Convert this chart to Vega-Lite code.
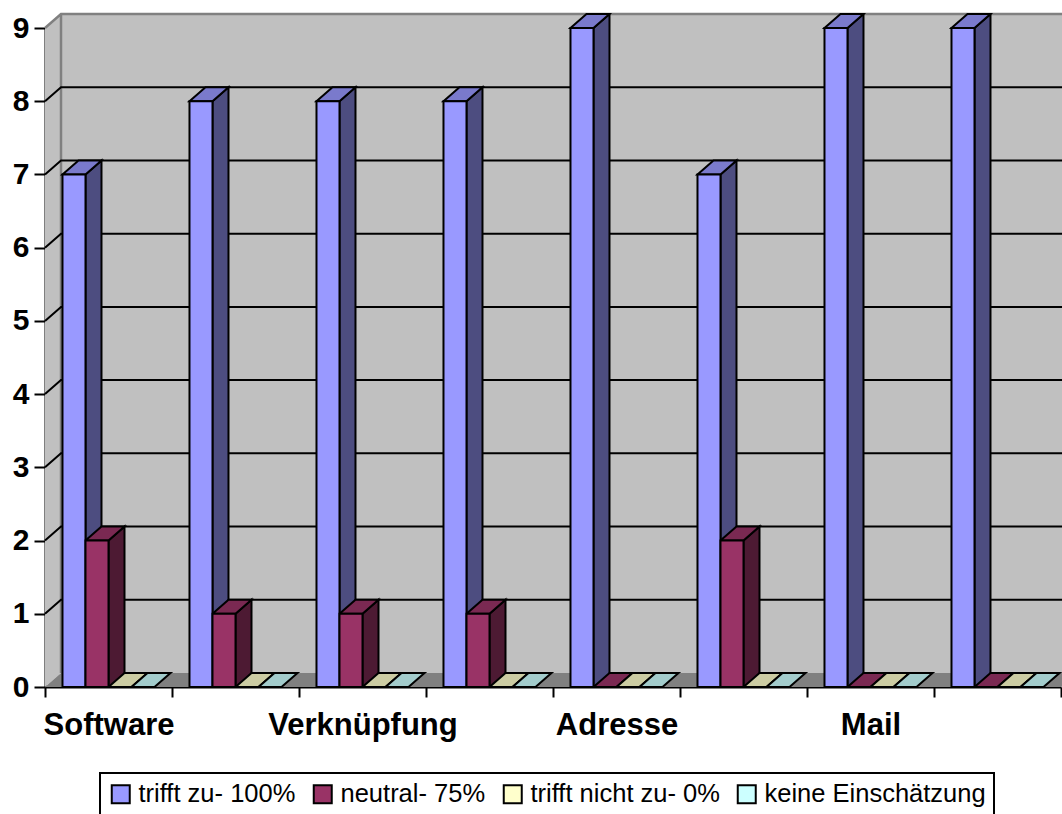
{
  "$schema": "https://vega.github.io/schema/vega-lite/v6.json",
  "width": 1016,
  "height": 673,
  "autosize": {"type": "none"},
  "padding": {"left": 45, "top": 14, "right": 1, "bottom": 127},
  "background": "white",
  "datasets": {
    "main": [
      {"cat": "Software", "series": "trifft zu- 100%", "value": 7},
      {"cat": "Software", "series": "neutral- 75%", "value": 2},
      {"cat": "Software", "series": "trifft nicht zu- 0%", "value": 0},
      {"cat": "Software", "series": "keine Einschätzung", "value": 0},
      {"cat": "Kategorie 2", "series": "trifft zu- 100%", "value": 8},
      {"cat": "Kategorie 2", "series": "neutral- 75%", "value": 1},
      {"cat": "Kategorie 2", "series": "trifft nicht zu- 0%", "value": 0},
      {"cat": "Kategorie 2", "series": "keine Einschätzung", "value": 0},
      {"cat": "Verknüpfung", "series": "trifft zu- 100%", "value": 8},
      {"cat": "Verknüpfung", "series": "neutral- 75%", "value": 1},
      {"cat": "Verknüpfung", "series": "trifft nicht zu- 0%", "value": 0},
      {"cat": "Verknüpfung", "series": "keine Einschätzung", "value": 0},
      {"cat": "Kategorie 4", "series": "trifft zu- 100%", "value": 8},
      {"cat": "Kategorie 4", "series": "neutral- 75%", "value": 1},
      {"cat": "Kategorie 4", "series": "trifft nicht zu- 0%", "value": 0},
      {"cat": "Kategorie 4", "series": "keine Einschätzung", "value": 0},
      {"cat": "Adresse", "series": "trifft zu- 100%", "value": 9},
      {"cat": "Adresse", "series": "neutral- 75%", "value": 0},
      {"cat": "Adresse", "series": "trifft nicht zu- 0%", "value": 0},
      {"cat": "Adresse", "series": "keine Einschätzung", "value": 0},
      {"cat": "Kategorie 6", "series": "trifft zu- 100%", "value": 7},
      {"cat": "Kategorie 6", "series": "neutral- 75%", "value": 2},
      {"cat": "Kategorie 6", "series": "trifft nicht zu- 0%", "value": 0},
      {"cat": "Kategorie 6", "series": "keine Einschätzung", "value": 0},
      {"cat": "Mail", "series": "trifft zu- 100%", "value": 9},
      {"cat": "Mail", "series": "neutral- 75%", "value": 0},
      {"cat": "Mail", "series": "trifft nicht zu- 0%", "value": 0},
      {"cat": "Mail", "series": "keine Einschätzung", "value": 0},
      {"cat": "Kategorie 8", "series": "trifft zu- 100%", "value": 9},
      {"cat": "Kategorie 8", "series": "neutral- 75%", "value": 0},
      {"cat": "Kategorie 8", "series": "trifft nicht zu- 0%", "value": 0},
      {"cat": "Kategorie 8", "series": "keine Einschätzung", "value": 0}
    ],
    "grid": [{"v": 1}, {"v": 2}, {"v": 3}, {"v": 4}, {"v": 5}, {"v": 6}, {"v": 7}, {"v": 8}],
    "base": [{"v": 0}]
  },
  "layer": [
    {
      "data": {"name": "base"},
      "mark": {"type": "point", "shape": "M0,0L0,-659L16,-673L1040,-673L1040,-14L16,-14Z", "size": 4, "filled": true, "opacity": 1, "fill": "#C0C0C0", "strokeWidth": 0},
      "encoding": {
        "x": {"datum": "Software", "bandPosition": 0, "type": "nominal", "title": null, "scale": {"type": "band", "domain": ["Software", "Kategorie 2", "Verknüpfung", "Kategorie 4", "Adresse", "Kategorie 6", "Mail", "Kategorie 8"], "paddingInner": 0, "paddingOuter": 0}},
        "y": {"field": "v", "type": "quantitative", "title": null, "scale": {"domain": [0, 9], "nice": false, "zero": true, "range": [673, 14]}}
      }
    },
    {
      "data": {"name": "base"},
      "mark": {"type": "point", "shape": "M0,-659L16,-673L1040,-673M16,-673L16,-14", "size": 4, "filled": false, "opacity": 1, "stroke": "#808080", "strokeWidth": 2.5},
      "encoding": {
        "x": {"datum": "Software", "bandPosition": 0, "type": "nominal", "title": null, "scale": {"type": "band", "domain": ["Software", "Kategorie 2", "Verknüpfung", "Kategorie 4", "Adresse", "Kategorie 6", "Mail", "Kategorie 8"], "paddingInner": 0, "paddingOuter": 0}},
        "y": {"field": "v", "type": "quantitative", "title": null, "scale": {"domain": [0, 9], "nice": false, "zero": true, "range": [673, 14]}}
      }
    },
    {
      "data": {"name": "grid"},
      "mark": {"type": "point", "shape": "M0,0L16,-14L1040,-14", "size": 4, "filled": false, "opacity": 1, "stroke": "black", "strokeWidth": 2},
      "encoding": {
        "x": {"datum": "Software", "bandPosition": 0, "type": "nominal", "title": null, "scale": {"type": "band", "domain": ["Software", "Kategorie 2", "Verknüpfung", "Kategorie 4", "Adresse", "Kategorie 6", "Mail", "Kategorie 8"], "paddingInner": 0, "paddingOuter": 0}},
        "y": {"field": "v", "type": "quantitative", "title": null, "scale": {"domain": [0, 9], "nice": false, "zero": true, "range": [673, 14]}}
      }
    },
    {
      "data": {"name": "base"},
      "mark": {"type": "point", "shape": "M0,0L1016,0L1032,-14L16,-14Z", "size": 4, "filled": true, "opacity": 1, "fill": "#808080", "strokeWidth": 0},
      "encoding": {
        "x": {"datum": "Software", "bandPosition": 0, "type": "nominal", "title": null, "scale": {"type": "band", "domain": ["Software", "Kategorie 2", "Verknüpfung", "Kategorie 4", "Adresse", "Kategorie 6", "Mail", "Kategorie 8"], "paddingInner": 0, "paddingOuter": 0}},
        "y": {"field": "v", "type": "quantitative", "title": null, "scale": {"domain": [0, 9], "nice": false, "zero": true, "range": [673, 14]}}
      }
    },
    {
      "data": {"name": "main"},
      "transform": [{"filter": "datum.value > 0"}],
      "mark": {"type": "point", "shape": "M11.5,0L27.5,-14L27.5,1000L11.5,1000Z", "size": 4, "filled": true, "opacity": 1, "stroke": "black", "strokeWidth": 2, "clip": true},
      "encoding": {
        "x": {"field": "cat", "type": "nominal", "title": null, "scale": {"type": "band", "domain": ["Software", "Kategorie 2", "Verknüpfung", "Kategorie 4", "Adresse", "Kategorie 6", "Mail", "Kategorie 8"], "paddingInner": 0, "paddingOuter": 0}},
        "xOffset": {"field": "series", "type": "nominal", "scale": {"domain": ["trifft zu- 100%", "neutral- 75%", "trifft nicht zu- 0%", "keine Einschätzung"], "paddingInner": 0, "paddingOuter": 0.76}},
        "y": {"field": "value", "type": "quantitative", "title": null, "scale": {"domain": [0, 9], "nice": false, "zero": true, "range": [673, 14]}},
        "color": {"field": "series", "type": "nominal", "legend": null, "scale": {"domain": ["trifft zu- 100%", "neutral- 75%", "trifft nicht zu- 0%", "keine Einschätzung"], "range": ["#4D4D80", "#4D1A33", "#80806A", "#668080"]}}
      }
    },
    {
      "data": {"name": "main"},
      "mark": {"type": "point", "shape": "M-11.5,0L11.5,0L27.5,-14L4.5,-14Z", "size": 4, "filled": true, "opacity": 1, "stroke": "black", "strokeWidth": 2},
      "encoding": {
        "x": {"field": "cat", "type": "nominal", "title": null, "scale": {"type": "band", "domain": ["Software", "Kategorie 2", "Verknüpfung", "Kategorie 4", "Adresse", "Kategorie 6", "Mail", "Kategorie 8"], "paddingInner": 0, "paddingOuter": 0}},
        "xOffset": {"field": "series", "type": "nominal", "scale": {"domain": ["trifft zu- 100%", "neutral- 75%", "trifft nicht zu- 0%", "keine Einschätzung"], "paddingInner": 0, "paddingOuter": 0.76}},
        "y": {"field": "value", "type": "quantitative", "title": null, "scale": {"domain": [0, 9], "nice": false, "zero": true, "range": [673, 14]}},
        "color": {"field": "series", "type": "nominal", "legend": null, "scale": {"domain": ["trifft zu- 100%", "neutral- 75%", "trifft nicht zu- 0%", "keine Einschätzung"], "range": ["#7A7ACC", "#7A2952", "#CCCCA3", "#A3CCCC"]}}
      }
    },
    {
      "data": {"name": "main"},
      "transform": [{"filter": "datum.value > 0"}],
      "mark": {"type": "bar", "stroke": "black", "strokeWidth": 2},
      "encoding": {
        "x": {"field": "cat", "type": "nominal", "title": null, "scale": {"type": "band", "domain": ["Software", "Kategorie 2", "Verknüpfung", "Kategorie 4", "Adresse", "Kategorie 6", "Mail", "Kategorie 8"], "paddingInner": 0, "paddingOuter": 0},
          "axis": {"title": null, "tickBand": "extent", "tickSize": 10, "labelFontSize": 31, "labelPadding": 13, "labelAngle": 0, "labelLimit": 400, "labelOverlap": false, "labelExpr": "indexof(['Software','Verknüpfung','Adresse','Mail'], datum.value) >= 0 ? datum.value : ''", "grid": false}},
        "xOffset": {"field": "series", "type": "nominal", "scale": {"domain": ["trifft zu- 100%", "neutral- 75%", "trifft nicht zu- 0%", "keine Einschätzung"], "paddingInner": 0, "paddingOuter": 0.76}},
        "y": {"field": "value", "type": "quantitative", "stack": null, "title": null, "scale": {"domain": [0, 9], "nice": false, "zero": true, "range": [673, 14]},
          "axis": {"title": null, "values": [0, 1, 2, 3, 4, 5, 6, 7, 8, 9], "format": "d", "tickSize": 11, "labelFontSize": 30, "labelPadding": 5, "grid": false}},
        "color": {"field": "series", "type": "nominal", "scale": {"domain": ["trifft zu- 100%", "neutral- 75%", "trifft nicht zu- 0%", "keine Einschätzung"], "range": ["#9999FF", "#993366", "#FFFFCC", "#CCFFFF"]},
          "legend": {"title": null, "orient": "none", "legendX": 55, "legendY": 759, "direction": "horizontal", "strokeColor": "black", "fillColor": "white", "padding": 8, "labelFontSize": 25.5, "labelFont": "Liberation Sans", "labelColor": "black", "labelLimit": 400, "symbolSize": 324, "symbolType": "square", "symbolStrokeColor": "black", "symbolStrokeWidth": 2, "labelOffset": 5, "columnPadding": 13}}
      }
    }
  ],
  "resolve": {"scale": {"color": "independent"}},
  "config": {
    "view": {"stroke": null, "fill": null},
    "font": "Liberation Sans",
    "legend": {"strokeWidth": 2},
    "axis": {"domainColor": "black", "domainWidth": 2, "tickColor": "black", "tickWidth": 2, "labelColor": "black", "labelFont": "Liberation Sans", "labelFontWeight": "bold", "grid": false},
    "axisX": {"tickBand": "extent", "tickSize": 10, "labelFontSize": 31, "labelPadding": 13, "labelAngle": 0, "labelLimit": 400},
    "axisY": {"tickSize": 11, "labelFontSize": 30, "labelPadding": 5, "format": "d"}
  }
}
